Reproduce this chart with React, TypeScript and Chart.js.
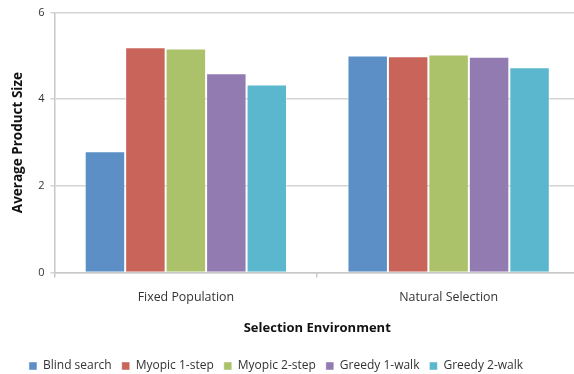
import React, { useEffect, useRef } from "react";
import { Chart, registerables } from "chart.js";

Chart.register(...registerables);

const categories = ["Fixed Population", "Natural Selection"];
const seriesNames = ["Blind search", "Myopic 1-step", "Myopic 2-step", "Greedy 1-walk", "Greedy 2-walk"];
const blindSearch = [2.8, 5.01];
const myopic1 = [5.2, 4.99];
const myopic2 = [5.17, 5.03];
const greedy1 = [4.6, 4.98];
const greedy2 = [4.34, 4.74];
const colors = ["#5B8FC6", "#C9645A", "#ABC26B", "#927BB0", "#5BB7CD"];
const yTicks = [0, 2, 4, 6];

const FONT = "'Open Sans', 'Noto Sans', sans-serif";

// Nudges the legend box after layout so it sits lower and left of the canvas centre.
const legendOffset = {
  id: "legendOffset",
  afterLayout(chart: any) {
    const lg = chart.legend;
    if (!lg) return;
    const dx = -19;
    const dy = 10;
    lg.left += dx;
    lg.right += dx;
    lg.top += dy;
    lg.bottom += dy;
  },
};

export default function App() {
  const ref = useRef<HTMLCanvasElement | null>(null);

  useEffect(() => {
    if (!ref.current) return;
    const values = [blindSearch, myopic1, myopic2, greedy1, greedy2];
    const chart = new Chart(ref.current, {
      type: "bar",
      data: {
        labels: categories,
        datasets: seriesNames.map((name, i) => ({
          label: name,
          data: values[i],
          backgroundColor: colors[i],
          borderColor: "rgba(255,255,255,0.45)",
          borderWidth: 1,
          barPercentage: 1,
          categoryPercentage: 0.77,
        })),
      },
      plugins: [legendOffset],
      options: {
        animation: false,
        responsive: false,
        maintainAspectRatio: false,
        layout: { padding: { top: 5, right: 0, left: 10, bottom: 2 } },
        plugins: {
          tooltip: { enabled: false },
          legend: {
            position: "bottom",
            labels: {
              boxWidth: 8,
              boxHeight: 8,
              padding: 10,
              color: "#333",
              font: { family: FONT, size: 12 },
            },
          },
        },
        scales: {
          x: {
            offset: true,
            grid: {
              offset: true,
              drawOnChartArea: false,
              drawTicks: true,
              tickLength: 5,
              color: "#c8c8c8",
              lineWidth: 1.5,
            },
            border: { display: true, color: "#c8c8c8", width: 1.5 },
            ticks: { color: "#333", font: { family: FONT, size: 12.4 }, padding: 13 },
            title: {
              display: true,
              text: "Selection Environment",
              color: "#111",
              font: { family: FONT, size: 13, weight: "bold" },
              padding: { top: 2, bottom: 4 },
            },
          },
          y: {
            min: 0,
            max: 6,
            afterBuildTicks: (axis: any) => {
              axis.ticks = yTicks.map((v) => ({ value: v }));
            },
            grid: { color: "#d4d4d4", lineWidth: 1.5, tickLength: 4 },
            border: { display: true, color: "#c8c8c8", width: 1.5 },
            ticks: { color: "#333", font: { family: FONT, size: 11 }, padding: 6 },
            title: {
              display: true,
              text: "Average Product Size",
              color: "#111",
              font: { family: FONT, size: 13.5, weight: "bold" },
              padding: { top: 0, bottom: 6 },
            },
          },
        },
      },
    });
    return () => chart.destroy();
  }, []);

  return (
    <div style={{ position: "fixed", left: 0, top: 0, width: 574, height: 374, overflow: "hidden", background: "#fff" }}>
      <canvas ref={ref} width={580} height={374} style={{ width: 580, height: 374, display: "block" }} />
    </div>
  );
}
